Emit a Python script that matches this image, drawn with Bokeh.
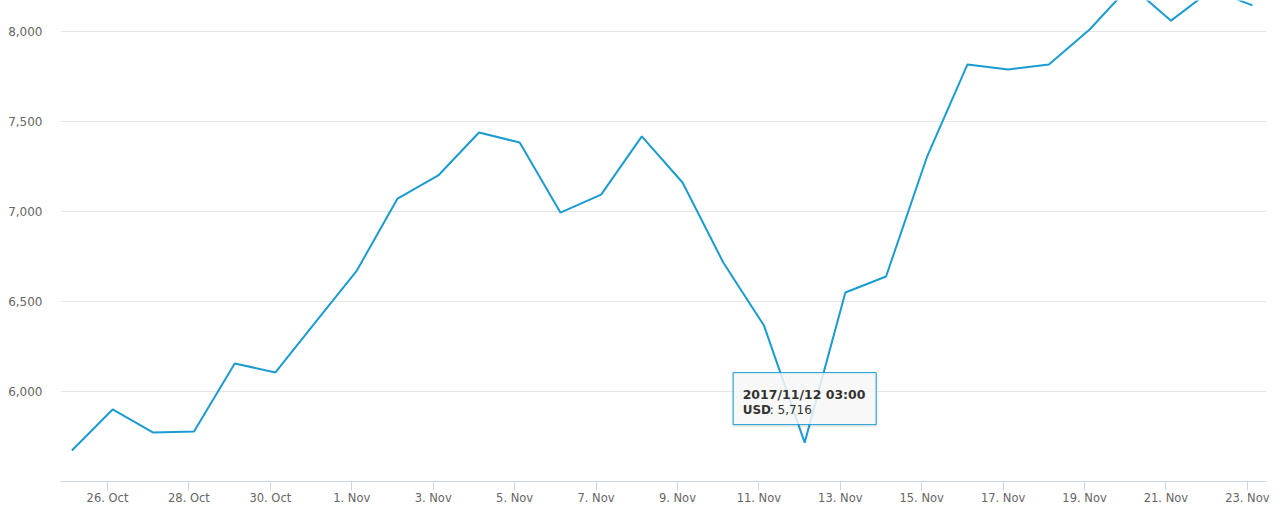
import pandas as pd
from bokeh.plotting import figure
from bokeh.models import Range1d, FixedTicker, NumeralTickFormatter, Label
from bokeh.embed import file_html
from bokeh.resources import INLINE

# ---- data ----
dates = [
    "2017-10-25 03:00", "2017-10-26 03:00", "2017-10-27 03:00", "2017-10-28 03:00",
    "2017-10-29 03:00", "2017-10-30 03:00", "2017-10-31 03:00", "2017-11-01 03:00",
    "2017-11-02 03:00", "2017-11-03 03:00", "2017-11-04 03:00", "2017-11-05 03:00",
    "2017-11-06 03:00", "2017-11-07 03:00", "2017-11-08 03:00", "2017-11-09 03:00",
    "2017-11-10 03:00", "2017-11-11 03:00", "2017-11-12 03:00", "2017-11-13 03:00",
    "2017-11-14 03:00", "2017-11-15 03:00", "2017-11-16 03:00", "2017-11-17 03:00",
    "2017-11-18 03:00", "2017-11-19 03:00", "2017-11-20 03:00", "2017-11-21 03:00",
    "2017-11-22 03:00", "2017-11-23 03:00",
]
usd = [
    5672, 5900, 5772, 5778, 6156, 6106, 6390, 6672,
    7072, 7200, 7439, 7383, 6994, 7094, 7417, 7161,
    6717, 6367, 5716, 6550, 6639, 7300, 7817, 7789,
    7817, 8011, 8255, 8060, 8232, 8145,
]
tick_dates = ["2017-10-26", "2017-10-28", "2017-10-30", "2017-11-01", "2017-11-03",
              "2017-11-05", "2017-11-07", "2017-11-09", "2017-11-11", "2017-11-13",
              "2017-11-15", "2017-11-17", "2017-11-19", "2017-11-21", "2017-11-23"]
tick_labels = ["26. Oct", "28. Oct", "30. Oct", "1. Nov", "3. Nov", "5. Nov", "7. Nov",
               "9. Nov", "11. Nov", "13. Nov", "15. Nov", "17. Nov", "19. Nov",
               "21. Nov", "23. Nov"]
y_ticks = [6000, 6500, 7000, 7500, 8000]
tooltip_index = 18
tooltip_title = "2017/11/12 03:00"
tooltip_series = "USD"
tooltip_value = ": 5,716"

LINE = "#1a9bd1"
FONT = "DejaVu Sans"

x = pd.to_datetime(dates)
x_ms = [t.value // 10**6 for t in x]
tick_ms = [pd.Timestamp(d).value // 10**6 for d in tick_dates]

Y0, Y1 = 5500, 8172
W, H = 1280, 514
BL, BR, BT, BB = 60, 14, 0, 33
frame_h = H - BT - BB

p = figure(width=W, height=H, x_axis_type="datetime", output_backend="svg",
           toolbar_location=None,
           x_range=Range1d(pd.Timestamp("2017-10-24 20:17"), pd.Timestamp("2017-11-23 11:17")),
           y_range=Range1d(Y0, Y1),
           min_border_left=BL, min_border_right=BR, min_border_top=BT, min_border_bottom=BB)
p.outline_line_color = None
p.background_fill_color = "white"

p.xgrid.visible = False
p.ygrid.ticker = FixedTicker(ticks=y_ticks)
p.ygrid.grid_line_color = "#e6e6e6"
p.ygrid.grid_line_width = 1

# y axis
p.yaxis.ticker = FixedTicker(ticks=y_ticks)
p.yaxis.formatter = NumeralTickFormatter(format="0,0")
p.yaxis.axis_line_color = None
p.yaxis.major_tick_line_color = None
p.yaxis.minor_tick_line_color = None
p.yaxis.major_tick_out = 0
p.yaxis.major_tick_in = 0
p.yaxis.major_label_standoff = 18
p.yaxis.major_label_text_font = FONT
p.yaxis.major_label_text_font_size = "12px"
p.yaxis.major_label_text_color = "#666666"

# x axis
p.xaxis.ticker = FixedTicker(ticks=tick_ms)
p.xaxis.major_label_overrides = {t: l for t, l in zip(tick_ms, tick_labels)}
p.xaxis.axis_line_color = "#ccd6eb"
p.xaxis.major_tick_line_color = "#ccd6eb"
p.xaxis.minor_tick_line_color = None
p.xaxis.major_tick_out = 9
p.xaxis.major_tick_in = 0
p.xaxis.major_label_standoff = 0
p.xaxis.major_label_text_font = FONT
p.xaxis.major_label_text_font_size = "11.5px"
p.xaxis.major_label_text_color = "#666666"

p.line(x_ms, usd, line_color=LINE, line_width=2)

# tooltip (shadow + box anchored to the hovered point)
px = x_ms[tooltip_index]
py = usd[tooltip_index]
usd_per_px = (Y1 - Y0) / frame_h
p.rect(x=[px], y=[py + 43 * usd_per_px], width=143, height=52,
       width_units="screen", height_units="screen",
       fill_color=None, line_color="#000000", line_alpha=0.08, line_width=3)
p.rect(x=[px], y=[py + 44 * usd_per_px], width=143, height=52,
       width_units="screen", height_units="screen",
       fill_color="#f7f7f7", fill_alpha=0.85, line_color=LINE, line_width=1)

common = dict(x=px, y=py, text_font=FONT, text_color="#333333", text_baseline="alphabetic")
p.add_layout(Label(text=tooltip_title, x_offset=-62, y_offset=48, text_font_size="12.5px",
                   text_font_style="bold", **common))
p.add_layout(Label(text=tooltip_series, x_offset=-62, y_offset=33, text_font_size="12px",
                   text_font_style="bold", **common))
p.add_layout(Label(text=tooltip_value, x_offset=-35, y_offset=33, text_font_size="12px", **common))

open("out.html", "w").write(file_html(p, INLINE))
